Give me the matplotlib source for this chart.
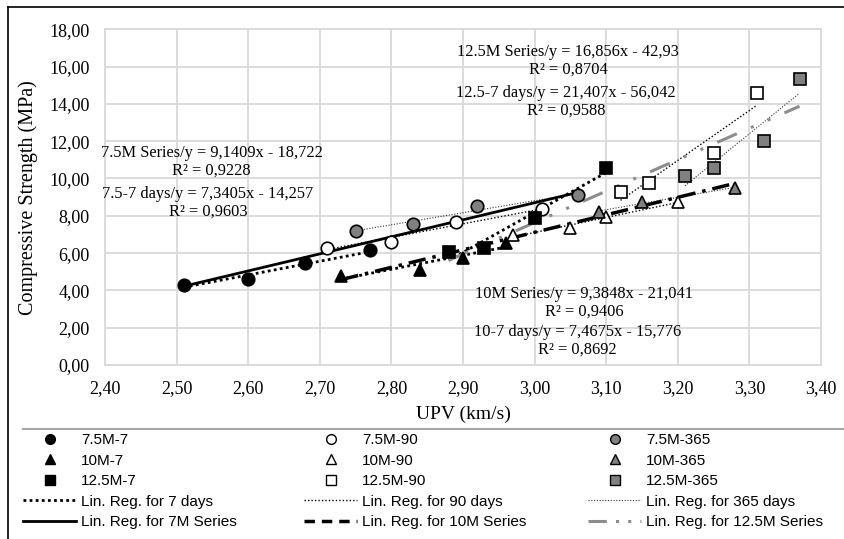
import numpy as np
import matplotlib
matplotlib.use('Agg')
import matplotlib.pyplot as plt
from matplotlib.lines import Line2D

# UPV (km/s) and compressive strength (MPa) for each mix / curing age
upv_75_7 = [2.51, 2.60, 2.68, 2.77]
fc_75_7 = [4.30, 4.60, 5.45, 6.15]
upv_75_90 = [2.71, 2.80, 2.89, 3.01]
fc_75_90 = [6.30, 6.60, 7.65, 8.35]
upv_75_365 = [2.75, 2.83, 2.92, 3.06]
fc_75_365 = [7.20, 7.55, 8.55, 9.10]

upv_10_7 = [2.73, 2.84, 2.90, 2.96]
fc_10_7 = [4.75, 5.10, 5.75, 6.55]
upv_10_90 = [2.97, 3.05, 3.10, 3.20]
fc_10_90 = [6.95, 7.35, 7.95, 8.75]
upv_10_365 = [3.09, 3.15, 3.28]
fc_10_365 = [8.20, 8.75, 9.50]

upv_125_7 = [2.88, 2.93, 3.00, 3.10]
fc_125_7 = [6.05, 6.25, 7.90, 10.55]
upv_125_90 = [3.12, 3.16, 3.25, 3.31]
fc_125_90 = [9.25, 9.75, 11.35, 14.60]
upv_125_365 = [3.21, 3.25, 3.32, 3.37]
fc_125_365 = [10.15, 10.55, 12.00, 15.35]

# regression equations printed on the chart (slope, intercept)
eq_75_series = (9.1409, -18.722)
eq_75_7 = (7.3405, -14.257)
eq_10_series = (9.3848, -21.041)
eq_10_7 = (7.4675, -15.776)
eq_125_series = (16.856, -42.93)
eq_125_7 = (21.407, -56.042)

xticks = [2.40, 2.50, 2.60, 2.70, 2.80, 2.90, 3.00, 3.10, 3.20, 3.30, 3.40]
yticks = [0, 2, 4, 6, 8, 10, 12, 14, 16, 18]

serif = ['Liberation Serif', 'DejaVu Serif']
sans = ['Liberation Sans', 'DejaVu Sans']

W, H = 845, 539
dpi = 100
fig = plt.figure(figsize=(W / dpi, H / dpi), dpi=dpi)
ax = fig.add_axes([105 / W, 1 - 365 / H, (821 - 105) / W, (365 - 29.3) / H])

ax.set_xlim(2.40, 3.40)
ax.set_ylim(0, 18)
ax.set_xticks(xticks)
ax.set_yticks(yticks)
ax.set_xticklabels([('%.2f' % v).replace('.', ',') for v in xticks], family=serif, fontsize=13)
ax.set_yticklabels([('%.2f' % v).replace('.', ',') for v in yticks], family=serif, fontsize=13)
ax.tick_params(length=0, pad=11)
ax.grid(True, color='#d9d9d9', lw=1.3)
ax.set_axisbelow(True)
for s in ax.spines.values():
    s.set_color('#d9d9d9')
    s.set_linewidth(1.3)
ax.set_xlabel('UPV (km/s)', family=serif, fontsize=14, labelpad=6)
ax.set_ylabel('Compressive Strength (MPa)', family=serif, fontsize=14.5, labelpad=8)


def eqline(x, eq, **kw):
    xs = np.array([min(x), max(x)])
    ax.plot(xs, eq[0] * xs + eq[1], **kw)


def fitline(x, y, **kw):
    k, b = np.polyfit(x, y, 1)
    xs = np.array([min(x), max(x)])
    ax.plot(xs, k * xs + b, **kw)


st7 = dict(color='black', lw=2.0, ls=(0, (1, 1.2)), zorder=2)
st90 = dict(color='black', lw=1.0, ls=(0, (1, 1.5)), zorder=2)
st365 = dict(color='#333333', lw=0.8, ls=(0, (1, 1.5)), zorder=2)
stA = dict(color='black', lw=2.0, ls='-', zorder=2)
stB = dict(color='black', lw=2.5, ls=(0, (5, 2, 1, 2)), zorder=2)
stC = dict(color='#8c8c8c', lw=2.2, ls=(0, (7, 5, 1, 5, 1, 5)), zorder=2)

# 7 day fits
eqline(upv_75_7, eq_75_7, **st7)
eqline(upv_10_7, eq_10_7, **st7)
eqline(upv_125_7, eq_125_7, **st7)
# 90 and 365 day fits
fitline(upv_75_90, fc_75_90, **st90)
fitline(upv_10_90, fc_10_90, **st90)
fitline(upv_125_90, fc_125_90, **st90)
fitline(upv_75_365, fc_75_365, **st365)
fitline(upv_10_365, fc_10_365, **st365)
fitline(upv_125_365, fc_125_365, **st365)
# series fits
eqline(upv_75_7 + upv_75_90 + upv_75_365, eq_75_series, **stA)
eqline(upv_10_7 + upv_10_90 + upv_10_365, eq_10_series, **stB)
eqline(upv_125_7 + upv_125_90 + upv_125_365, eq_125_series, **stC)

ms = 9
mk = dict(ls='none', markeredgecolor='black', markeredgewidth=1.2, ms=ms, zorder=3)
gray = '#808080'
ax.plot(upv_75_7, fc_75_7, marker='o', mfc='black', **mk)
ax.plot(upv_75_90, fc_75_90, marker='o', mfc='white', **mk)
ax.plot(upv_75_365, fc_75_365, marker='o', mfc=gray, **mk)
ax.plot(upv_10_7, fc_10_7, marker='^', mfc='black', **mk)
ax.plot(upv_10_90, fc_10_90, marker='^', mfc='white', **mk)
ax.plot(upv_10_365, fc_10_365, marker='^', mfc=gray, **mk)
ax.plot(upv_125_7, fc_125_7, marker='s', mfc='black', **mk)
ax.plot(upv_125_90, fc_125_90, marker='s', mfc='white', **mk)
ax.plot(upv_125_365, fc_125_365, marker='s', mfc=gray, **mk)

ann = dict(ha='center', va='center', multialignment='center', family=serif,
           fontsize=11.8, linespacing=1.12, zorder=4)
ax.text(2.549, 10.88, '7.5M Series/y = 9,1409x - 18,722\nR² = 0,9228', **ann)
ax.text(2.544, 8.69, '7.5-7 days/y = 7,3405x - 14,257\nR² = 0,9603', **ann)
ax.text(3.047, 16.33, '12.5M Series/y = 16,856x - 42,93\nR² = 0,8704', **ann)
ax.text(3.044, 14.13, '12.5-7 days/y = 21,407x - 56,042\nR² = 0,9588', **ann)
ax.text(3.069, 3.35, '10M Series/y = 9,3848x - 21,041\nR² = 0,9406', **ann)
ax.text(3.060, 1.29, '10-7 days/y = 7,4675x - 15,776\nR² = 0,8692', **ann)

# legend, three columns
def mh(m, fc):
    return Line2D([], [], ls='none', marker=m, mfc=fc, mec='black', mew=1.0, ms=7)

col1 = [(mh('o', 'black'), '7.5M-7'), (mh('^', 'black'), '10M-7'),
        (mh('s', 'black'), '12.5M-7'), (Line2D([], [], **st7), 'Lin. Reg. for 7 days'),
        (Line2D([], [], **stA), 'Lin. Reg. for 7M Series')]
col2 = [(mh('o', 'white'), '7.5M-90'), (mh('^', 'white'), '10M-90'),
        (mh('s', 'white'), '12.5M-90'), (Line2D([], [], **st90), 'Lin. Reg. for 90 days'),
        (Line2D([], [], color='black', lw=2.5, ls=(0, (3, 2))), 'Lin. Reg. for 10M Series')]
col3 = [(mh('o', gray), '7.5M-365'), (mh('^', gray), '10M-365'),
        (mh('s', gray), '12.5M-365'), (Line2D([], [], **st365), 'Lin. Reg. for 365 days'),
        (Line2D([], [], color='#8c8c8c', lw=2.2, ls=(0, (6, 3, 1, 3, 1, 3))), 'Lin. Reg. for 12.5M Series')]

for x0, col in [(23, col1), (304, col2), (588, col3)]:
    leg = fig.legend([h for h, l in col], [l for h, l in col], loc='upper left',
                     bbox_to_anchor=(x0 / W, 1 - 433 / H), frameon=False,
                     prop={'family': sans, 'size': 11}, handlelength=3.5,
                     handletextpad=0.3, labelspacing=0.43, borderpad=0, borderaxespad=0)

# separator and outer border
fig.add_artist(Line2D([23 / W, 1], [1 - 429 / H, 1 - 429 / H], color='#a6a6a6', lw=1.5))
fig.add_artist(Line2D([8 / W, 1], [1 - 7 / H, 1 - 7 / H], color='black', lw=1.2))
fig.add_artist(Line2D([8 / W, 8 / W], [0, 1 - 7 / H], color='black', lw=1.2))

fig.savefig('out.png', dpi=dpi)
